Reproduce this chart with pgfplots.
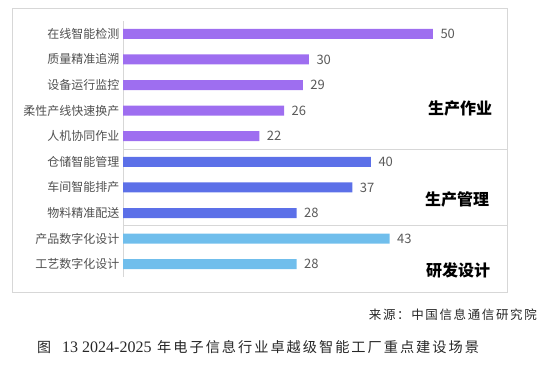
\documentclass[border=0pt]{standalone}
\usepackage{pgfplots}
\pgfplotsset{compat=1.18}
\usepackage{fontspec}
\setmainfont{Noto Sans CJK SC}
\newfontfamily\serifnum{Liberation Serif}
\definecolor{cpurple}{RGB}{158,110,240}
\definecolor{cblue}{RGB}{92,112,232}
\definecolor{clight}{RGB}{112,190,236}
\definecolor{labgray}{RGB}{80,80,80}
\definecolor{valgray}{RGB}{90,90,90}
\definecolor{framegray}{RGB}{215,215,215}
\begin{document}
\begin{tikzpicture}
\path[use as bounding box] (0,0) rectangle (554pt,-384pt);
\draw[framegray, line width=0.8pt] (12pt,-8pt) rectangle (507pt,-292pt);
\begin{axis}[
  at={(123pt,-277pt)}, anchor=south west,
  scale only axis, width=384pt, height=256pt,
  xmin=0, xmax=61.94, ymin=-0.5, ymax=9.5, y dir=reverse,
  axis x line=none,
  axis y line*=left,
  y axis line style={draw=framegray, line width=0.8pt, -},
  ytick={0,...,9},
  yticklabels={在线智能检测,质量精准追溯,设备运行监控,柔性产线快速换产,人机协同作业,仓储智能管理,车间智能排产,物料精准配送,产品数字化设计,工艺数字化设计},
  yticklabel style={font=\fontsize{12}{12}\selectfont, text=labgray},
  major tick length=0pt,
  tick style={draw=none},
  xbar, bar width=10pt, bar shift=0pt,
  /pgf/number format/assume math mode=true,
  nodes near coords,
  nodes near coords style={font=\fontsize{13}{13}\selectfont, text=valgray, xshift=4pt},
  clip=false,
]
\addplot[draw=none, fill=cpurple] coordinates {(50,0) (30,1) (29,2) (26,3) (22,4)};
\addplot[draw=none, fill=cblue] coordinates {(40,5) (37,6) (28,7)};
\addplot[draw=none, fill=clight] coordinates {(43,8) (28,9)};
\draw[framegray, line width=0.8pt] (axis cs:0,4.5) -- (axis cs:61.94,4.5);
\draw[framegray, line width=0.8pt] (axis cs:0,7.5) -- (axis cs:61.94,7.5);
\end{axis}
\node[font=\fontsize{16}{16}\selectfont\bfseries] at (460pt,-108pt) {生产作业};
\node[font=\fontsize{16}{16}\selectfont\bfseries] at (457pt,-199pt) {生产管理};
\node[font=\fontsize{16}{16}\selectfont\bfseries] at (458pt,-270pt) {研发设计};
\node[anchor=east, inner sep=0pt, font=\fontsize{12.5}{12.5}\selectfont\addfontfeature{LetterSpace=13}, text=black!85] at (537pt,-315pt) {来源：中国信息通信研究院};
\node[anchor=west, inner sep=0pt, font=\fontsize{14}{14}\selectfont, text=black!85] at (37pt,-347pt) {图};
\node[anchor=west, inner sep=0pt, font=\fontsize{16}{16}\selectfont\serifnum, text=black!85] at (62pt,-347pt) {13 2024-2025};
\node[anchor=west, inner sep=0pt, font=\fontsize{14.2}{14.2}\selectfont\addfontfeature{LetterSpace=14}, text=black!85] at (157pt,-347pt) {年电子信息行业卓越级智能工厂重点建设场景};
\end{tikzpicture}
\end{document}
